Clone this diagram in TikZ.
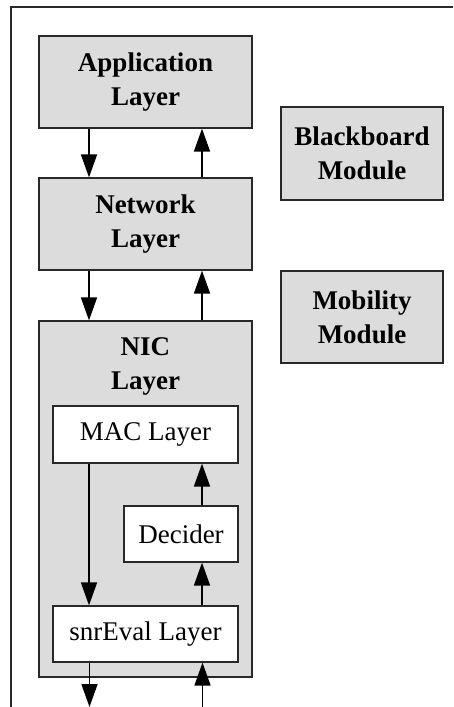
\documentclass[tikz,border=0pt]{standalone}
\usepackage{fontspec}
\setmainfont{Liberation Serif}
\usetikzlibrary{arrows.meta}
\definecolor{boxgray}{RGB}{220,220,220}
\definecolor{edgegray}{RGB}{40,40,40}
\begin{document}
\begin{tikzpicture}[x=1pt,y=-1pt,
  basebox/.style={draw=edgegray, line width=1.2pt, inner sep=0pt, align=center,
    font=\fontsize{27}{34}\selectfont},
  graybox/.style={basebox, fill=boxgray, font=\fontsize{27}{34}\selectfont\bfseries},
  whitebox/.style={basebox, fill=white},
  flow/.style={line width=1.6pt, -{Triangle[length=23pt,width=16pt]}}]
\useasboundingbox (0,0) rectangle (453,707);
% outer frame (top and left edges)
\draw[edgegray, line width=1.2pt] (11,707) -- (11,7) -- (453,7);
% protocol stack
\node[graybox, minimum width=213pt, minimum height=92pt] (app) at (145.5,82) {Application\\Layer};
\node[graybox, minimum width=213pt, minimum height=92pt] (net) at (145.5,224) {Network\\Layer};
\node[graybox, minimum width=213pt, minimum height=356pt] (nic) at (145.5,499) {};
\node[font=\fontsize{27}{34}\selectfont\bfseries, align=center, inner sep=0pt, anchor=north] (niclabel) at (145.5,337) {NIC\\Layer};
\node[whitebox, minimum width=185pt, minimum height=57pt] (mac) at (145.5,434.5) {MAC Layer};
\node[whitebox, minimum width=114pt, minimum height=56pt] (dec) at (181,534) {Decider};
\node[whitebox, minimum width=185pt, minimum height=56pt] (snr) at (145.5,634) {snrEval Layer};
% side modules
\node[graybox, minimum width=162pt, minimum height=93pt] (bb) at (362,153.5) {Blackboard\\Module};
\node[graybox, minimum width=162pt, minimum height=92pt] (mob) at (362,317) {Mobility\\Module};
% connector columns
\coordinate (dl) at (89,0);
\coordinate (dr) at (202,0);
\coordinate (outdown) at (89.5,707);
\coordinate (inup) at (202.5,707);
% connectors
\draw[flow] (app.south -| dl) -- (net.north -| dl);
\draw[flow] (net.north -| dr) -- (app.south -| dr);
\draw[flow] (net.south -| dl) -- (nic.north -| dl);
\draw[flow] (nic.north -| dr) -- (net.south -| dr);
\draw[flow] (mac.south -| dl) -- (snr.north -| dl);
\draw[flow] (snr.north -| dr) -- (dec.south -| dr);
\draw[flow] (dec.north -| dr) -- (mac.south -| dr);
\draw[flow] (snr.south -| outdown) -- (outdown);
\draw[flow] (inup) -- (snr.south -| inup);
\end{tikzpicture}
\end{document}
